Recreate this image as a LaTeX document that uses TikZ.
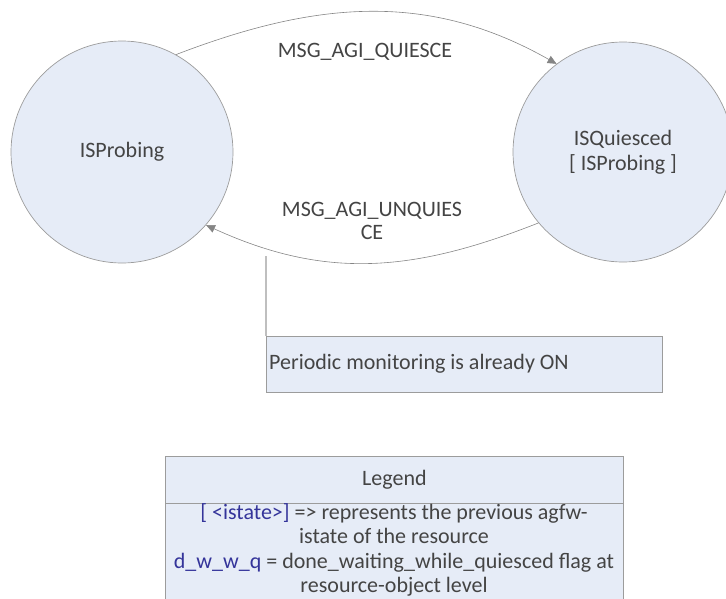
\documentclass[tikz,border=0pt]{standalone}
\usepackage{fontspec}
\setmainfont{Carlito}
\usetikzlibrary{arrows.meta}
\definecolor{txt}{HTML}{444444}
\definecolor{fillb}{HTML}{E6ECF7}
\definecolor{edgec}{HTML}{9C9C9C}
\definecolor{arcc}{HTML}{858585}
\definecolor{bl}{HTML}{34349A}
\begin{document}
\begin{tikzpicture}[x=1pt,y=-1pt,
  font=\fontsize{22}{25}\selectfont, text=txt,
  state/.style={circle, draw=edgec, fill=fillb, line width=0.7pt, align=center, inner sep=0pt},
  trans/.style={draw=arcc, line width=0.6pt, -{Triangle[length=9pt,width=8pt]}},
  lbl/.style={align=center, inner sep=0pt},
  boxc/.style={draw=edgec, fill=fillb, line width=0.9pt}]
\clip (0,0) rectangle (726,598);
\useasboundingbox (0,0) rectangle (726,598);

\node[state, minimum size=222pt] (L) at (122,152) {ISProbing};
\node[state, minimum size=220pt] (R) at (623,152) {ISQuiesced\\{[} ISProbing ]};

\draw[trans] (L.61) .. controls (318,0) and (430,-8) .. (R.127);
\draw[trans] (R.220) .. controls (414,272) and (326,280) .. (L.-41);

\node[lbl] (q) at (365,52) {MSG\_AGI\_QUIESCE};
\node[lbl, font=\fontsize{22}{22.5}\selectfont] (u) at (372,221) {MSG\_AGI\_UNQUIES\\CE};

\node[boxc, minimum width=396pt, minimum height=56pt, anchor=north west, inner sep=0pt] (P) at (266,336) {};
\node[anchor=west, inner sep=0pt] (Pt) at (269,364) {Periodic monitoring is already ON};
\coordinate (ptop) at (266,256);
\draw[draw=black!25, line width=1.4pt] (ptop) -- (P.north west);

\node[boxc, minimum width=458pt, minimum height=47pt, anchor=north west, inner sep=0pt] (LH) at (165,456) {Legend};
\node[boxc, minimum width=458pt, minimum height=140pt, anchor=north west, inner sep=0pt] (LB) at (165,503) {};
\node[lbl, anchor=north, font=\fontsize{22}{24.6}\selectfont] (LT) at (394,503) {\textcolor{bl}{{[} <istate>]} => represents the previous agfw-\\istate of the resource\\\textcolor{bl}{d\_w\_w\_q} = done\_waiting\_while\_quiesced flag at\\resource-object level};
\end{tikzpicture}
\end{document}
